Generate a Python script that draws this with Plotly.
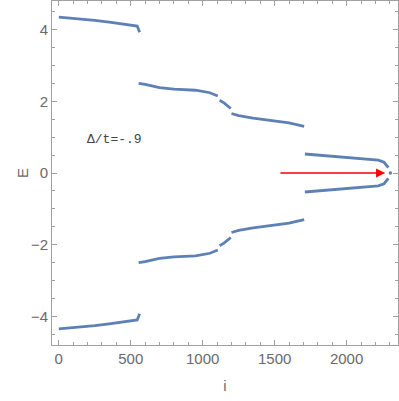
import plotly.graph_objects as go

# read-off vertices of the positive-energy branches (index i, energy E)
top_i = [0, 60, 150, 250, 350, 450, 520, 545, 562]
top_E = [4.35, 4.33, 4.30, 4.26, 4.21, 4.16, 4.13, 4.10, 3.93]

mid_i = [555, 600, 700, 800, 950, 1050, 1105, None, 1118, 1150, 1195, None,
         1200, 1250, 1350, 1500, 1600, 1705]
mid_E = [2.50, 2.47, 2.38, 2.34, 2.31, 2.24, 2.15, None, 2.03, 1.95, 1.80, None,
         1.66, 1.60, 1.53, 1.46, 1.40, 1.30]

inn_i = [1710, 1800, 1950, 2100, 2220, 2260, 2290]
inn_E = [0.53, 0.50, 0.44, 0.38, 0.36, 0.30, 0.15]

bot_E = [-4.35, -4.33, -4.30, -4.26, -4.21, -4.16, -4.13, -4.10, -3.93]
mid_neg_E = [-2.50, -2.47, -2.38, -2.34, -2.31, -2.24, -2.15, None, -2.03, -1.95, -1.80, None,
             -1.66, -1.60, -1.53, -1.46, -1.40, -1.30]
inn_neg_E = [-0.53, -0.50, -0.44, -0.38, -0.36, -0.30, -0.15]

zero_i = [2304]
zero_E = [0.0]

arrow_from = (1530, 0.0)
arrow_to = (2268, 0.0)
label = "Δ/t=-.9"
label_pos = (386, 0.93)

BLUE = "#5E81B5"
GRAY = "#a0a0a0"
TXT = "#6a6a6a"

fig = go.Figure()
for xs, ys in [(top_i, top_E), (mid_i, mid_E), (inn_i, inn_E),
               (top_i, bot_E), (mid_i, mid_neg_E), (inn_i, inn_neg_E)]:
    fig.add_trace(go.Scatter(x=xs, y=ys, mode="lines", connectgaps=False,
                             line=dict(color=BLUE, width=2.8), showlegend=False,
                             hoverinfo="skip"))
fig.add_trace(go.Scatter(x=zero_i, y=zero_E, mode="markers",
                         marker=dict(color=BLUE, size=3.5), showlegend=False))

fig.add_annotation(x=arrow_to[0], y=arrow_to[1], ax=arrow_from[0], ay=arrow_from[1],
                   xref="x", yref="y", axref="x", ayref="y", text="",
                   showarrow=True, arrowhead=2, arrowsize=1.4, arrowwidth=1.3,
                   arrowcolor="#ff0000")
fig.add_annotation(x=label_pos[0], y=label_pos[1], text=label, showarrow=False,
                   font=dict(family="Liberation Mono, monospace", size=13, color="#444444"))
# y-axis title placed by hand, ~30px left of the frame (closer than plotly's default)
fig.add_annotation(x=-30 / 346, y=0, xref="paper", yref="y", xanchor="center",
                   text="E", textangle=-90, showarrow=False,
                   font=dict(size=15, color=TXT))

axis_common = dict(showline=True, linecolor=GRAY, linewidth=1, mirror="ticks",
                   ticks="inside", ticklen=5, tickcolor=GRAY, showgrid=False,
                   zeroline=False, automargin=False,
                   tickfont=dict(size=15, color=TXT))
fig.update_xaxes(range=[-47, 2357], dtick=500, tick0=0,
                 minor=dict(ticks="inside", dtick=100, ticklen=3, tickcolor=GRAY),
                 title=dict(text="i", font=dict(size=15, color=TXT), standoff=14),
                 **axis_common)
fig.update_yaxes(range=[-4.8, 4.8], dtick=2, tick0=0,
                 minor=dict(ticks="inside", dtick=0.5, ticklen=3, tickcolor=GRAY),
                 **axis_common)
fig.update_layout(width=399, height=401, margin=dict(l=52, r=1, t=1, b=56),
                  paper_bgcolor="white", plot_bgcolor="white",
                  font=dict(family="Liberation Sans, Arial, sans-serif"))
# page body has a default 8px margin; remove it so the figure sits at the window origin
fig.write_html("out.html", config={"displayModeBar": False},
               post_script="document.body.style.margin='0';")
